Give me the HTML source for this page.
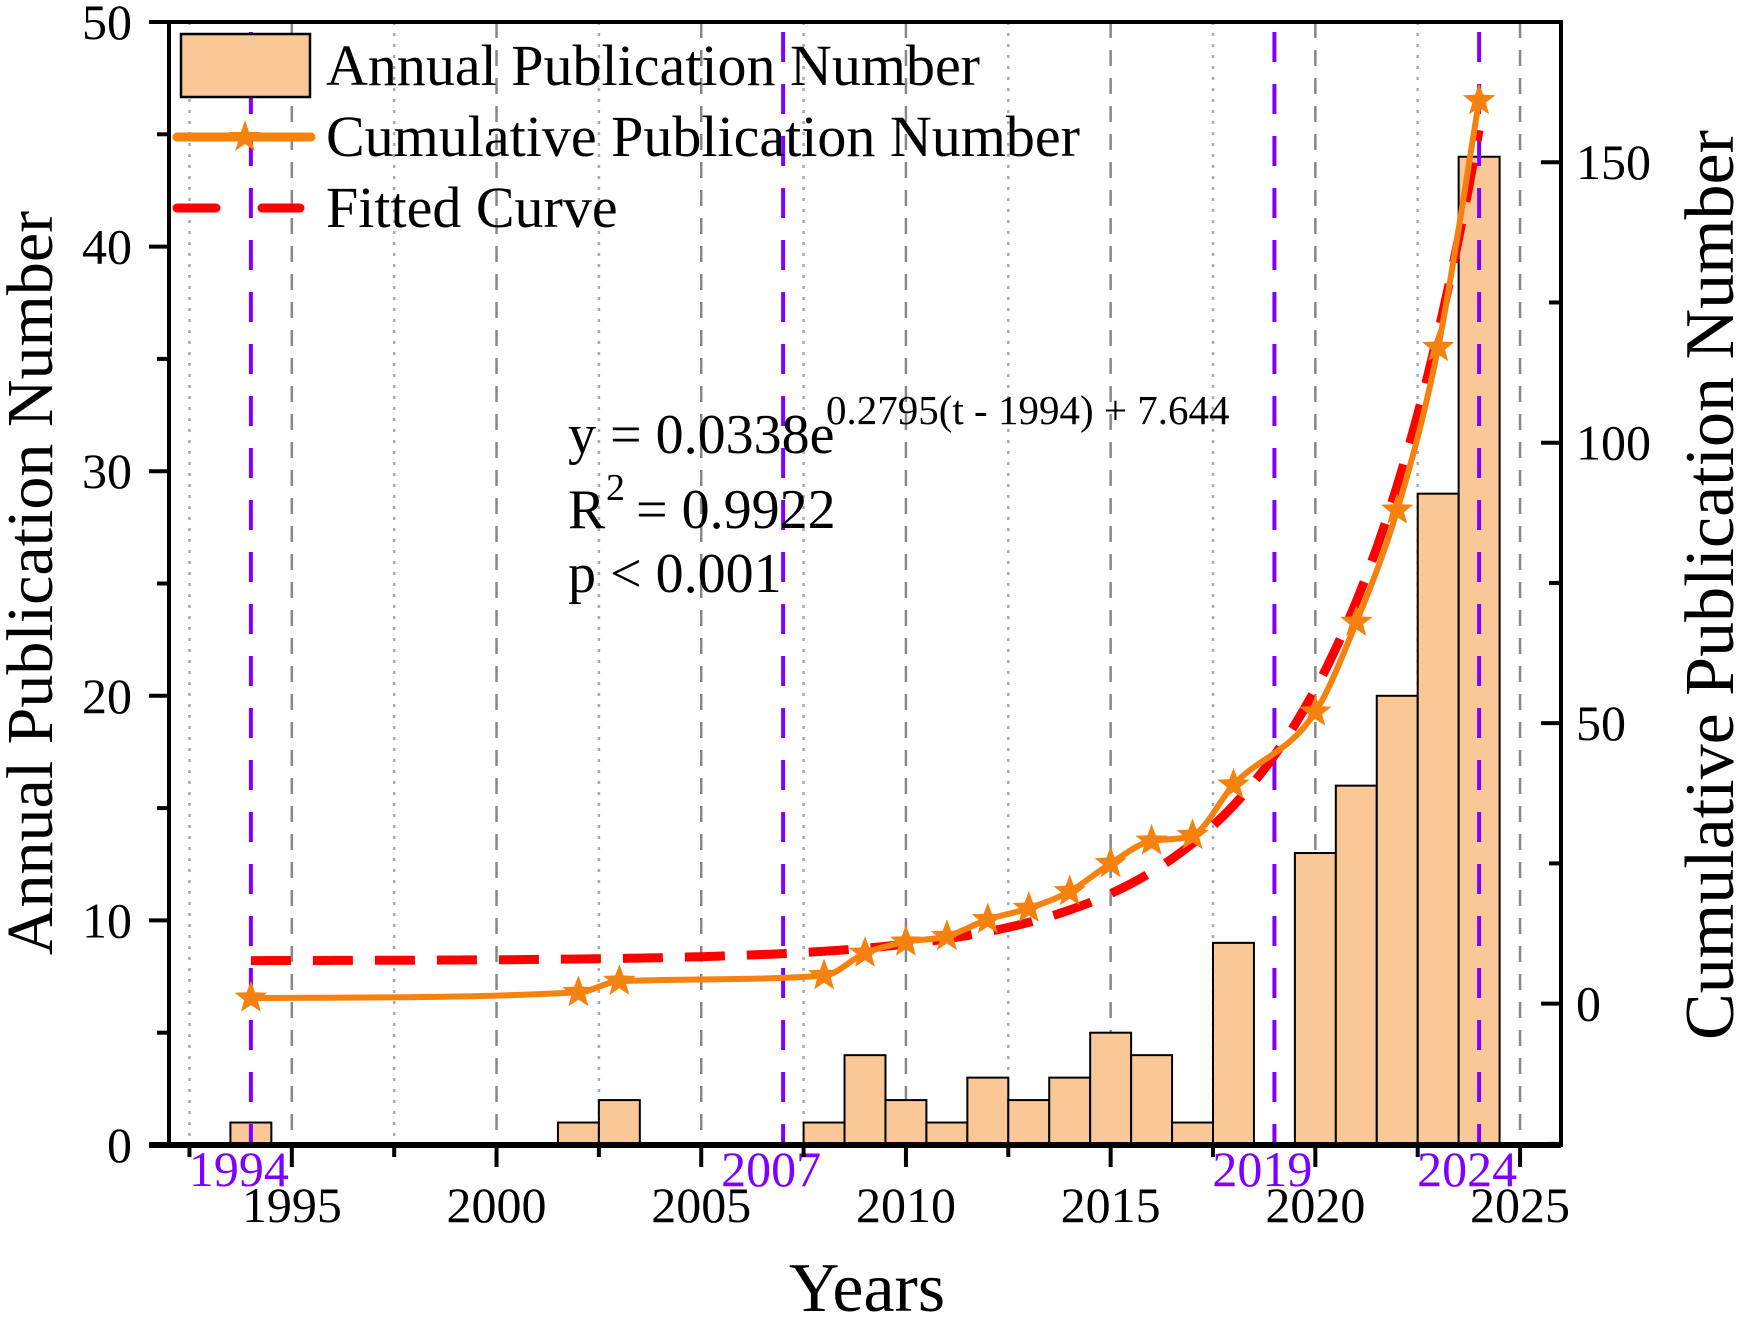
<!DOCTYPE html>
<html><head><meta charset="utf-8"><style>
html,body{margin:0;padding:0;background:#fff;}
svg{display:block;font-family:"Liberation Serif",serif;}
</style></head><body>
<svg id="chart" width="1742" height="1318" viewBox="0 0 1742 1318" xmlns="http://www.w3.org/2000/svg"></svg>
<script>
const barYears = [1994,2002,2003,2008,2009,2010,2011,2012,2013,2014,2015,2016,2017,2018,2020,2021,2022,2023,2024];
const annualValues = [1,1,2,1,4,2,1,3,2,3,5,4,1,9,13,16,20,29,44];
const cumulativeValues = [1,2,4,5,9,11,12,15,17,20,25,29,30,39,52,68,88,117,161];
const fitParams = [0.0338, 0.2795, 1994, 7.644];
const markerYears = [1994,2007,2019,2024];
const xTickLabels = [1995,2000,2005,2010,2015,2020,2025];
const leftTickLabels = [0,10,20,30,40,50];
const rightTickLabels = [0,50,100,150];

const NS='http://www.w3.org/2000/svg';
const svg=document.getElementById('chart');
const L=169,R=1561,T=22,B=1145;
const x=v=>L+(v-1992)/(2026-1992)*(R-L);
const yL=v=>B-(v-0)/50*(B-T);
const yR=v=>B-(v+25.2)/200.2*(B-T);
function el(tag,attrs,parent){const e=document.createElementNS(NS,tag);for(const k in attrs)e.setAttribute(k,attrs[k]);(parent||svg).appendChild(e);return e;}

const grid=el('g',{});


for(let yr=1992.5;yr<2026;yr+=5){el('line',{x1:x(yr),x2:x(yr),y1:T,y2:B,stroke:'#aaa','stroke-width':2.5,'stroke-dasharray':'3 8'},grid);}
for(let yr=1995;yr<2026;yr+=5){el('line',{x1:x(yr),x2:x(yr),y1:T,y2:B,stroke:'#888','stroke-width':2.5,'stroke-dasharray':'16 12'},grid);}

const bw=x(1)-x(0);
barYears.forEach((yr,i)=>{
  const b=el('rect',{x:x(yr)-bw/2,y:yL(annualValues[i]),width:bw,height:B-yL(annualValues[i]),fill:'#fac896',stroke:'#000','stroke-width':2});
  
  
});

markerYears.forEach(yr=>{
  const m=el('line',{x1:x(yr),x2:x(yr),y1:T+10,y2:B,stroke:'#7f00ff','stroke-width':4,'stroke-dasharray':'30 22'});
  
  
  const t=el('text',{x:x(yr)-12,y:1186,'text-anchor':'middle','font-size':50,fill:'#7f00ff'});
  t.textContent=yr;
  
  
});

let fd='';
for(let t=1994;t<=2024.001;t+=0.25){const v=fitParams[0]*Math.exp(fitParams[1]*(t-fitParams[2]))+fitParams[3];fd+=(fd?'L':'M')+x(t).toFixed(1)+','+yR(v).toFixed(1);}
const fit=el('path',{d:fd,fill:'none',stroke:'#ff0000','stroke-width':9,'stroke-dasharray':'40 22'});



const pts=barYears.map((yr,i)=>[x(yr),yR(cumulativeValues[i])]);
const n=pts.length,d=[],m=[];
for(let i=0;i<n-1;i++)d.push((pts[i+1][1]-pts[i][1])/(pts[i+1][0]-pts[i][0]));
m[0]=d[0];m[n-1]=d[n-2];
for(let i=1;i<n-1;i++){m[i]=(d[i-1]*d[i]<=0)?0:(d[i-1]+d[i])/2;}
for(let i=0;i<n-1;i++){if(d[i]===0){m[i]=0;m[i+1]=0;continue;}const a=m[i]/d[i],b=m[i+1]/d[i],s=a*a+b*b;if(s>9){const t=3/Math.sqrt(s);m[i]=t*a*d[i];m[i+1]=t*b*d[i];}}
let cd='M'+pts[0][0]+','+pts[0][1];
for(let i=0;i<n-1;i++){const h=(pts[i+1][0]-pts[i][0])/3;cd+='C'+(pts[i][0]+h)+','+(pts[i][1]+m[i]*h)+' '+(pts[i+1][0]-h)+','+(pts[i+1][1]-m[i+1]*h)+' '+pts[i+1][0]+','+pts[i+1][1];}
const cum=el('path',{d:cd,fill:'none',stroke:'#f5820f','stroke-width':6});


function star(cx,cy,r){let s='';for(let k=0;k<10;k++){const a=-Math.PI/2+k*Math.PI/5,rr=k%2?r*0.42:r;s+=(k?'L':'M')+(cx+rr*Math.cos(a)).toFixed(1)+','+(cy+rr*Math.sin(a)).toFixed(1);}return s+'Z';}
pts.forEach((p,i)=>{
  const s=el('path',{d:star(p[0],p[1],17),fill:'#f5820f'});
  
  
});

const ax=el('g',{stroke:'#000','stroke-width':4,fill:'none'});


el('rect',{x:L,y:T,width:R-L,height:B-T},ax);
el('line',{x1:L-20,x2:R,y1:B,y2:B,'stroke-width':6},ax);
for(let yr=1992.5;yr<2026;yr+=2.5){const maj=(yr%5===0);el('line',{x1:x(yr),x2:x(yr),y1:B,y2:B+(maj?22:12)},ax);}
for(let v=0;v<=50;v+=5){el('line',{x1:L-(v%10===0?20:12),x2:L,y1:yL(v),y2:yL(v)},ax);}
for(let v=-25;v<=175;v+=25){el('line',{x1:R-(v%50===0?20:12),x2:R,y1:yR(v),y2:yR(v)},ax);}

xTickLabels.forEach(v=>{const t=el('text',{x:x(v),y:1222,'text-anchor':'middle','font-size':50});t.textContent=v;});
leftTickLabels.forEach(v=>{const t=el('text',{x:132,y:yL(v)+17,'text-anchor':'end','font-size':50});t.textContent=v;});
rightTickLabels.forEach(v=>{const t=el('text',{x:1576,y:yR(v)+17,'text-anchor':'start','font-size':50});t.textContent=v;});
</script>
<svg style="position:absolute;left:0;top:0" width="1742" height="1318">
  <text x="867" y="1311" text-anchor="middle" font-size="70" font-family="Liberation Serif, serif">Years</text>
  <text transform="translate(52,583) rotate(-90)" text-anchor="middle" font-size="66" font-family="Liberation Serif, serif">Annual Publication Number</text>
  <text transform="translate(1733,585) rotate(-90)" text-anchor="middle" font-size="70" font-family="Liberation Serif, serif">Cumulative Publication Number</text>
  <g font-family="Liberation Serif, serif" font-size="58">
    <rect x="181" y="34" width="129" height="63" fill="#fac896" stroke="#000" stroke-width="2.5"/>
    <text x="326" y="85">Annual Publication Number</text>
    <line x1="177" y1="137" x2="311" y2="137" stroke="#f5820f" stroke-width="9" stroke-linecap="round"/>
    <path d="M245,120 L249,132 L261,132 L251,139 L255,151 L245,144 L235,151 L239,139 L229,132 L241,132 Z" fill="#f5820f"/>
    <text x="326" y="156">Cumulative Publication Number</text>
    <line x1="177" y1="208" x2="216" y2="208" stroke="#ff0000" stroke-width="9" stroke-linecap="round"/>
    <line x1="262" y1="208" x2="300" y2="208" stroke="#ff0000" stroke-width="9" stroke-linecap="round"/>
    <text x="326" y="227">Fitted Curve</text>
  </g>
  <g font-family="Liberation Serif, serif" font-size="56">
    <text x="568" y="453">y = 0.0338e</text>
    <text x="826" y="424" font-size="41">0.2795(t - 1994) + 7.644</text>
    <text x="568" y="528">R</text>
    <text x="606" y="500" font-size="38">2</text>
    <text x="636" y="528">= 0.9922</text>
    <text x="568" y="592">p &lt; 0.001</text>
  </g>
</svg>
</body></html>
